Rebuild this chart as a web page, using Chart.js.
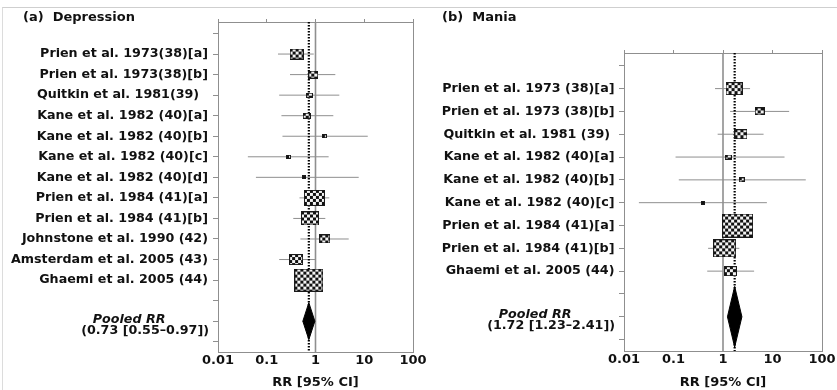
<!DOCTYPE html>
<html>
<head>
<meta charset="utf-8">
<script src="https://cdn.jsdelivr.net/npm/chart.js@4.4.1/dist/chart.umd.min.js"></script>
<style>
  body { margin: 0; background: #fff; }
  #wrap { position: relative; width: 837px; height: 390px; overflow: hidden; }
  #frame { position: absolute; left: 2px; top: 7px; width: 835px; height: 383px;
           border-top: 1px solid #cfcfcf; border-left: 1px solid #dcdcdc; }
  canvas { position: absolute; top: 0; }
  #depr { left: 0; }
  #mania { left: 420px; }
</style>
</head>
<body>
<div id="wrap">
  <div id="frame"></div>
  <canvas id="depr" width="440" height="390"></canvas>
  <canvas id="mania" width="417" height="390"></canvas>
</div>
<script>
// ---- data ----
const decades = [0.01, 0.1, 1, 10, 100];
const decadeLabels = ["0.01", "0.1", "1", "10", "100"];

// (a) Depression
const studiesA = [
  "Prien et al. 1973(38)[a]",
  "Prien et al. 1973(38)[b]",
  "Quitkin et al. 1981(39)  ",
  "Kane et al. 1982 (40)[a]",
  "Kane et al. 1982 (40)[b]",
  "Kane et al. 1982 (40)[c]",
  "Kane et al. 1982 (40)[d]",
  "Prien et al. 1984 (41)[a]",
  "Prien et al. 1984 (41)[b]",
  "Johnstone et al. 1990 (42)",
  "Amsterdam et al. 2005 (43)",
  "Ghaemi et al. 2005 (44)"
];
const rrA = [0.41, 0.90, 0.75, 0.66, 1.52, 0.28, 0.59, 0.95, 0.77, 1.55, 0.40, 0.73];
const loA = [0.17, 0.30, 0.18, 0.20, 0.21, 0.041, 0.060, 0.47, 0.35, 0.49, 0.18, 0.55];
const hiA = [0.92, 2.55, 3.08, 2.32, 11.8, 1.86, 7.7, 1.92, 1.59, 4.8, 0.99, 0.98];
const weightA = [8.2, 4.2, 2.0, 2.7, 1.0, 1.0, 0.7, 18.4, 13.5, 5.0, 8.2, 35.1];
const pooledA = [0.73, 0.55, 0.97];

// (b) Mania
const studiesB = [
  "Prien et al. 1973 (38)[a]",
  "Prien et al. 1973 (38)[b]",
  "Quitkin et al. 1981 (39) ",
  "Kane et al. 1982 (40)[a]",
  "Kane et al. 1982 (40)[b]",
  "Kane et al. 1982 (40)[c]",
  "Prien et al. 1984 (41)[a]",
  "Prien et al. 1984 (41)[b]",
  "Ghaemi et al. 2005 (44)"
];
const rrB = [1.67, 5.5, 2.30, 1.28, 2.39, 0.39, 1.97, 1.08, 1.41];
const loB = [0.69, 1.39, 0.78, 0.11, 0.128, 0.020, 1.1, 0.50, 0.48];
const hiB = [3.52, 21.7, 6.6, 17.5, 47, 7.7, 3.5, 2.14, 4.25];
const weightB = [12.8, 4.4, 7.5, 2.2, 1.6, 0.7, 39.9, 23.4, 7.5];
const pooledB = [1.72, 1.23, 2.41];

// ---- look ----
const FONT = "'DejaVu Sans', 'Liberation Sans', sans-serif";
const INK = "#111";
const GREY = "#8f8f8f";

function checkerBox(w, h) {
  const c = document.createElement("canvas");
  c.width = w; c.height = h;
  const g = c.getContext("2d");
  g.fillStyle = "#f4f4f4";
  g.fillRect(0, 0, w, h);
  g.fillStyle = "#111";
  const cell = 3;
  for (let y = 0; y < h; y += cell) {
    for (let x = 0; x < w; x += cell) {
      if (((x + y) / cell) % 2 === 0) g.fillRect(x, y, cell, cell);
    }
  }
  g.strokeStyle = "#1a1a1a";
  g.lineWidth = 1;
  g.strokeRect(0.5, 0.5, w - 1, h - 1);
  return c;
}

const panelText = {
  id: "panelText",
  beforeDatasetsDraw(chart) {
    const { ctx, chartArea: a } = chart;
    ctx.save();
    ctx.strokeStyle = GREY;
    ctx.lineWidth = 1;
    ctx.strokeRect(Math.round(a.left) + 0.5, Math.round(a.top) + 0.5,
                   Math.round(a.right - a.left), Math.round(a.bottom - a.top));
    ctx.restore();
  },
  afterDraw(chart, args, opts) {
    const { ctx, chartArea: a } = chart;
    const yScale = chart.scales.y;
    ctx.save();
    ctx.fillStyle = INK;
    ctx.textBaseline = "alphabetic";
    ctx.font = "bold 13px " + FONT;
    ctx.textAlign = "left";
    ctx.fillText(opts.title, opts.titleX, 21);

    const rowY = yScale.getPixelForValue(opts.pooledRow);
    const right = a.left - 9;
    const line2 = "(" + opts.pooled[0].toFixed(2) + " [" + opts.pooled[1].toFixed(2) +
                  "\u2013" + opts.pooled[2].toFixed(2) + "])";
    ctx.font = "bold 12.7px " + FONT;
    const w2 = ctx.measureText(line2).width;
    ctx.textAlign = "right";
    ctx.fillText(line2, right, rowY + 12.5);
    ctx.font = "italic bold 12.7px " + FONT;
    ctx.textAlign = "center";
    ctx.fillText("Pooled RR", right - w2 / 2 - 16, rowY + 1.5);
    ctx.restore();
  }
};

function forest(canvasId, cfg) {
  const n = cfg.labels.length;
  const pooledRow = n + 2;
  const yMin = -0.56, yMax = n + 3.5;
  const rows = [];
  for (let i = 0; i <= n + 3; i++) rows.push(i);

  const datasets = [];
  // confidence-interval whiskers
  cfg.rr.forEach((v, i) => {
    datasets.push({
      data: [{ x: cfg.lo[i], y: i + 1 }, { x: cfg.hi[i], y: i + 1 }],
      showLine: true, borderColor: GREY, borderWidth: 1, pointRadius: 0, order: 4
    });
  });
  // line of no effect
  datasets.push({
    data: [{ x: 1, y: yMin }, { x: 1, y: yMax }],
    showLine: true, borderColor: GREY, borderWidth: 1.6, pointRadius: 0, order: 3
  });
  // pooled estimate (dotted)
  datasets.push({
    data: [{ x: cfg.pooled[0], y: yMin }, { x: cfg.pooled[0], y: yMax }],
    showLine: true, borderColor: "#000", borderWidth: 2.2, borderDash: [1.5, 1.5],
    pointRadius: 0, order: 2
  });
  // study boxes, area ~ weight
  const imgs = cfg.weight.map(w => {
    const bw = Math.max(4, Math.round(4.85 * Math.sqrt(w)));
    const bh = Math.max(4, Math.round(bw * 0.78));
    return checkerBox(bw, bh);
  });
  datasets.push({
    data: cfg.rr.map((v, i) => ({ x: v, y: i + 1 })),
    pointStyle: ctx => imgs[ctx.dataIndex],
    pointRadius: 3, showLine: false, order: 0
  });
  // pooled diamond
  const p = cfg.pooled, h = cfg.diamondHalf;
  datasets.push({
    data: [
      { x: p[1], y: pooledRow }, { x: p[0], y: pooledRow - h },
      { x: p[2], y: pooledRow }, { x: p[0], y: pooledRow + h },
      { x: p[1], y: pooledRow }
    ],
    showLine: true, fill: "shape", borderColor: "#000", backgroundColor: "#000",
    borderWidth: 1, pointRadius: 0, tension: 0, order: 1
  });

  const tickFont = { family: FONT, weight: "bold", size: 13 };

  return new Chart(document.getElementById(canvasId), {
    type: "scatter",
    data: { datasets },
    options: {
      responsive: false,
      animation: false,
      layout: { padding: { left: 0, right: cfg.padRight, top: cfg.top - 3, bottom: 0 } },
      plugins: {
        legend: { display: false },
        tooltip: { enabled: false },
        panelText: {
          title: cfg.title, titleX: cfg.titleX,
          pooled: cfg.pooled, pooledRow: pooledRow
        }
      },
      scales: {
        x: {
          type: "logarithmic", position: "bottom", min: 0.01, max: 100,
          afterBuildTicks: s => { s.ticks = decades.map(v => ({ value: v })); },
          ticks: {
            callback: v => decadeLabels[decades.indexOf(v)],
            font: tickFont, color: INK, padding: 1, maxRotation: 0, autoSkip: false
          },
          grid: { drawOnChartArea: false, drawTicks: false },
          border: { color: GREY },
          title: { display: true, text: "RR [95% CI]", font: tickFont, color: INK, padding: 0 },
          afterFit: s => { s.height = cfg.bottomH; s.paddingLeft = 0; s.paddingRight = 0; }
        },
        xTop: {
          type: "logarithmic", position: "top", min: 0.01, max: 100,
          afterBuildTicks: s => { s.ticks = decades.map(v => ({ value: v })); },
          ticks: { display: false },
          grid: { drawOnChartArea: false, tickLength: 3, color: GREY },
          border: { color: GREY },
          afterFit: s => { s.height = 3; s.paddingLeft = 0; s.paddingRight = 0; }
        },
        y: {
          type: "linear", reverse: true, min: yMin, max: yMax,
          afterBuildTicks: s => { s.ticks = rows.map(v => ({ value: v })); },
          ticks: {
            callback: v => cfg.labels[v - 1] || "",
            font: { family: FONT, weight: "bold", size: 12.7 },
            color: INK, padding: cfg.labelPad, autoSkip: false
          },
          grid: { drawOnChartArea: false, tickLength: 5, color: GREY },
          border: { color: GREY },
          afterFit: s => { s.width = cfg.left; s.paddingTop = 0; s.paddingBottom = 0; }
        }
      }
    },
    plugins: [panelText]
  });
}

forest("depr", {
  title: "(a)  Depression", titleX: 23,
  labels: studiesA, rr: rrA, lo: loA, hi: hiA, weight: weightA, pooled: pooledA,
  left: 218, padRight: 27, top: 22, bottomH: 38, labelPad: 5, diamondHalf: 0.9
});

forest("mania", {
  title: "(b)  Mania", titleX: 22,
  labels: studiesB, rr: rrB, lo: loB, hi: hiB, weight: weightB, pooled: pooledB,
  left: 204, padRight: 15, top: 53, bottomH: 39, labelPad: 4.5, diamondHalf: 1.33
});
</script>
</body>
</html>
